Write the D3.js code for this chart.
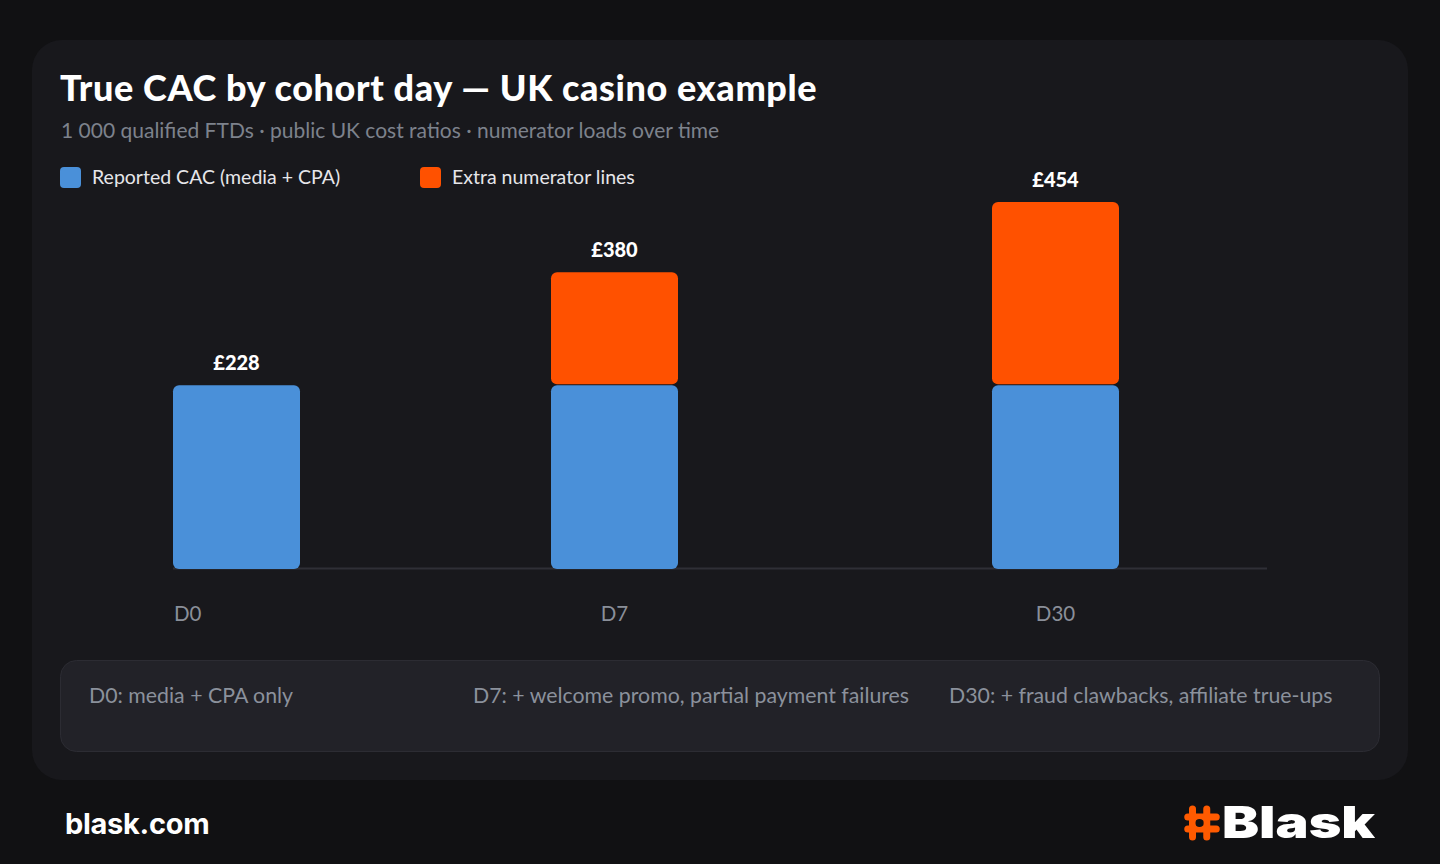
<!DOCTYPE html>
<html>
<head>
<meta charset="utf-8">
<script src="https://cdn.jsdelivr.net/npm/d3@7"></script>
<style>
  html, body { margin: 0; padding: 0; background: #111113; }
  svg { display: block; }
</style>
</head>
<body>
<div id="chart"></div>
<script>
const width = 1440;
const height = 864;

// Data
const cohortDays = ["D0", "D7", "D30"];
const reportedCac = [228, 228, 228];
const extraNumerator = [0, 139, 226];
const totalLabels = ["£228", "£380", "£454"];
const seriesNames = ["Reported CAC (media + CPA)", "Extra numerator lines"];
const notes = [
  "D0: media + CPA only",
  "D7: + welcome promo, partial payment failures",
  "D30: + fraud clawbacks, affiliate true-ups"
];

const blue = "#4a90d9";
const orange = "#ff5100";
const font = "Lato, 'Open Sans', sans-serif";

const svg = d3.select("#chart").append("svg").attr("width", width).attr("height", height);

// page + card
svg.append("rect").attr("width", width).attr("height", height).attr("fill", "#111113");
svg.append("rect")
  .attr("x", 32).attr("y", 40).attr("width", 1376).attr("height", 740)
  .attr("rx", 30).attr("fill", "#18181c");

// title block
svg.append("text")
  .attr("x", 60).attr("y", 101)
  .attr("font-family", font).attr("font-weight", 900).attr("font-size", 36)
  .attr("letter-spacing", 0.6)
  .attr("fill", "#ffffff")
  .text("True CAC by cohort day — UK casino example");

svg.append("text")
  .attr("x", 61).attr("y", 138)
  .attr("font-family", font).attr("font-size", 21)
  .attr("fill", "#7d828c")
  .text("1 000 qualified FTDs · public UK cost ratios · numerator loads over time");

// legend
const legend = svg.append("g");
const legendX = [60, 420];
seriesNames.forEach((name, i) => {
  const g = legend.append("g").attr("transform", `translate(${legendX[i]},167)`);
  g.append("rect").attr("width", 21).attr("height", 21).attr("rx", 4)
    .attr("fill", i === 0 ? blue : orange);
  g.append("text").attr("x", 32).attr("y", 17)
    .attr("font-family", font).attr("font-size", 19.5)
    .attr("fill", "#e6e6ea")
    .text(name);
});

// scales
const x = d3.scaleOrdinal().domain(cohortDays).range([236.5, 614.5, 1055.5]);
const barWidth = 127;
const y = d3.scaleLinear().domain([0, 454]).range([569, 202]);

const bars = cohortDays.map((d, i) => ({
  day: d,
  reported: reportedCac[i],
  extra: extraNumerator[i],
  label: totalLabels[i]
}));

// baseline
svg.append("line")
  .attr("x1", x("D0") - barWidth / 2).attr("x2", 1267)
  .attr("y1", 568.5).attr("y2", 568.5)
  .attr("stroke", "#2f2f36").attr("stroke-width", 2);

const plot = svg.append("g");

// reported segment
plot.selectAll("rect.reported")
  .data(bars)
  .enter()
  .append("rect")
  .attr("class", "reported")
  .attr("x", (d) => x(d.day) - barWidth / 2)
  .attr("y", (d) => y(d.reported) + 0.5)
  .attr("width", barWidth)
  .attr("height", (d) => y(0) - y(d.reported) - 0.5)
  .attr("rx", 6)
  .attr("fill", blue);

// extra numerator segment
plot.selectAll("rect.extra")
  .data(bars.filter((d) => d.extra > 0))
  .enter()
  .append("rect")
  .attr("class", "extra")
  .attr("x", (d) => x(d.day) - barWidth / 2)
  .attr("y", (d) => y(d.reported + d.extra))
  .attr("width", barWidth)
  .attr("height", (d) => y(d.reported) - y(d.reported + d.extra) - 0.5)
  .attr("rx", 6)
  .attr("fill", orange);

// totals above bars
plot.selectAll("text.total")
  .data(bars)
  .enter()
  .append("text")
  .attr("class", "total")
  .attr("x", (d) => x(d.day))
  .attr("y", (d) => y(d.reported + d.extra) - 15)
  .attr("text-anchor", "middle")
  .attr("font-family", font).attr("font-weight", 900).attr("font-size", 20)
  .attr("fill", "#ffffff")
  .text((d) => d.label);

// x labels (first one sits on the bar's left edge)
plot.selectAll("text.day")
  .data(bars)
  .enter()
  .append("text")
  .attr("class", "day")
  .attr("x", (d, i) => (i === 0 ? x(d.day) - barWidth / 2 + 1 : x(d.day)))
  .attr("y", 621)
  .attr("text-anchor", (d, i) => (i === 0 ? "start" : "middle"))
  .attr("font-family", font).attr("font-size", 20.5)
  .attr("fill", "#8a8f99")
  .text((d) => d.day);

// notes box
svg.append("rect")
  .attr("x", 60.5).attr("y", 660.5).attr("width", 1319).attr("height", 91)
  .attr("rx", 16).attr("fill", "#222228").attr("stroke", "#2c2c33");

const noteX = [89, 473, 949];
svg.selectAll("text.note")
  .data(notes)
  .enter()
  .append("text")
  .attr("class", "note")
  .attr("x", (d, i) => noteX[i])
  .attr("y", 703)
  .attr("font-family", font).attr("font-size", 21.3)
  .attr("fill", "#8b919c")
  .text((d) => d);

// footer
svg.append("text")
  .attr("x", 65).attr("y", 834)
  .attr("font-family", "Inter, sans-serif").attr("font-weight", 700).attr("font-size", 29)
  .attr("letter-spacing", -0.3)
  .attr("fill", "#ffffff")
  .text("blask.com");

// logo: hash mark + wordmark
const logo = svg.append("g").attr("transform", "translate(1199.5,823)");
const hash = [
  [-10, -14, -10, 14], [5, -14, 5, 14],
  [-15, -6, 15, -6], [-15, 6, 15, 6]
];
logo.selectAll("line")
  .data(hash)
  .enter()
  .append("line")
  .attr("x1", (d) => d[0] * 0.95 + 2.5).attr("y1", (d) => d[1])
  .attr("x2", (d) => d[2] * 0.95 + 2.5).attr("y2", (d) => d[3])
  .attr("stroke", "#ff5a00").attr("stroke-width", 7).attr("stroke-linecap", "round");
logo.append("circle").attr("cx", 0).attr("cy", 0).attr("r", 4).attr("fill", "#111113");

svg.append("text")
  .attr("x", 1222).attr("y", 838)
  .attr("font-family", "Inter, sans-serif").attr("font-weight", 900).attr("font-size", 44)
  .attr("textLength", 153).attr("lengthAdjust", "spacingAndGlyphs")
  .attr("fill", "#ffffff")
  .text("Blask");
</script>
</body>
</html>
